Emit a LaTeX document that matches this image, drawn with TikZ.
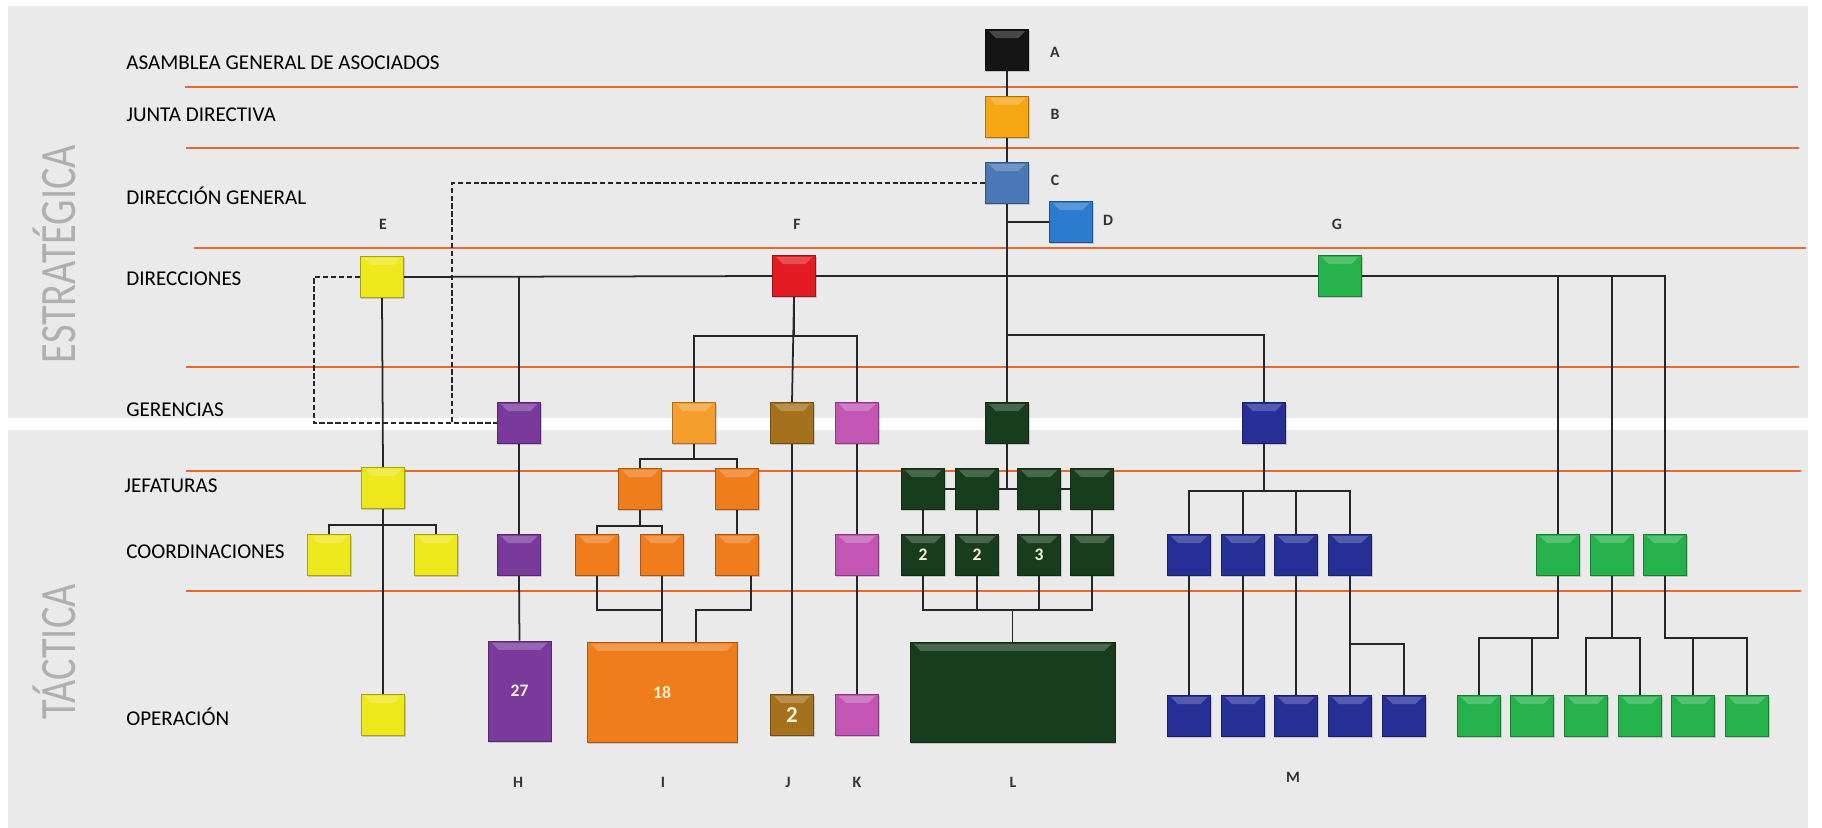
\documentclass[tikz,border=0pt]{standalone}
\usepackage{fontspec}
\setmainfont{Carlito}
\usetikzlibrary{shadows,calc}

\definecolor{panel}{HTML}{EAEAEB}
\definecolor{lineor}{HTML}{E8692C}
\definecolor{bigtxt}{HTML}{B0B0B0}
\definecolor{numtxt}{HTML}{F6F1D6}
\definecolor{colA}{HTML}{141414}
\definecolor{colB}{HTML}{F5A613}
\definecolor{colC}{HTML}{4A79B5}
\definecolor{colD}{HTML}{2B7BCF}
\definecolor{colE}{HTML}{EDE91C}
\definecolor{colF}{HTML}{E31B23}
\definecolor{colG}{HTML}{26B24B}
\definecolor{colH}{HTML}{7A3A9C}
\definecolor{colIg}{HTML}{F59E2E}
\definecolor{colI}{HTML}{F07D1C}
\definecolor{colJ}{HTML}{A6711C}
\definecolor{colK}{HTML}{C356B5}
\definecolor{colL}{HTML}{183D1C}
\definecolor{colM}{HTML}{262F96}

\begin{document}
\begin{tikzpicture}[x=0.02cm, y=-0.02cm,
    orgbox/.style={draw=#1!70!black, fill=#1, line width=0.5pt, inner sep=0pt,
        minimum width=0.87cm, minimum height=0.83cm,
        drop shadow={shadow xshift=0.6pt, shadow yshift=-0.9pt, opacity=0.35},
        path picture={\fill[white, opacity=0.22]
            ([xshift=-2pt,yshift=-1pt]path picture bounding box.north east) --
            ([xshift=2pt,yshift=-1pt]path picture bounding box.north west) --
            ([xshift=6pt,yshift=-5pt]path picture bounding box.north west) --
            ([xshift=-6pt,yshift=-5pt]path picture bounding box.north east) -- cycle;}},
    rowlabel/.style={anchor=west, inner sep=0pt, font=\fontsize{12}{14}\selectfont},
    letter/.style={inner sep=0pt, text=black!80, font=\fontsize{9}{10}\selectfont\bfseries},
    num/.style={text=numtxt, font=\fontsize{10}{12}\selectfont\bfseries},
    bigtext/.style={rotate=90, inner sep=0pt, text=bigtxt, font=\fontsize{29}{30}\selectfont},
    level/.style={draw=lineor, line width=1.6pt},
    link/.style={draw=black!85, line width=1pt}]

    \useasboundingbox (0,0) rectangle (1822,828);

    % Panels
    \fill[panel] (8,6) rectangle (1808,418);
    \fill[panel] (8,430) rectangle (1808,828);

    % Level lines
    \foreach \y/\xa/\xb in {87/185/1798, 148/186/1799, 248/194/1806, 367/186/1799, 471/186/1801, 591/186/1801}
        \draw[level] (\xa,\y) -- (\xb,\y);

    % Side labels
    \node[bigtext] (estr) at (54,254) {\scalebox{0.79}[1]{ESTRATÉGICA}};
    \node[bigtext] (tact) at (54,652) {\scalebox{0.79}[1]{TÁCTICA}};

    % Row labels
    \node[rowlabel] (labAsam) at (126,63) {ASAMBLEA GENERAL DE ASOCIADOS};
    \node[rowlabel] (labJunta) at (126,115) {JUNTA DIRECTIVA};
    \node[rowlabel] (labDirgen) at (126,196) {DIRECCIÓN GENERAL};
    \node[rowlabel] (labDir) at (126,279) {DIRECCIONES};
    \node[rowlabel] (labGer) at (126,410) {GERENCIAS};
    \node[rowlabel] (labJef) at (124,486) {JEFATURAS};
    \node[rowlabel] (labCoo) at (126,552) {COORDINACIONES};
    \node[rowlabel] (labOpe) at (126,717) {OPERACIÓN};

    % Strategic boxes
    \node[orgbox=colA] (asam) at (1007,50) {};
    \node[orgbox=colB] (junta) at (1007,117) {};
    \node[orgbox=colC] (dirgen) at (1007,183) {};
    \node[orgbox=colD] (asesor) at (1071,222) {};
    \node[orgbox=colE] (dirE) at (382,277) {};
    \node[orgbox=colF] (dirF) at (794,276) {};
    \node[orgbox=colG] (dirG) at (1340,276) {};

    % Gerencias
    \node[orgbox=colH] (gerH) at (519,423) {};
    \node[orgbox=colIg] (gerI) at (694,423) {};
    \node[orgbox=colJ] (gerJ) at (792,423) {};
    \node[orgbox=colK] (gerK) at (857,423) {};
    \node[orgbox=colL] (gerL) at (1007,423) {};
    \node[orgbox=colM] (gerM) at (1264,423) {};

    % Jefaturas
    \node[orgbox=colE] (jefE) at (383,488) {};
    \node[orgbox=colI] (jefI1) at (640,489) {};
    \node[orgbox=colI] (jefI2) at (737,489) {};
    \foreach \x [count=\i] in {923,977,1039,1092}
        \node[orgbox=colL] (jefL\i) at (\x,489) {};

    % Coordinaciones
    \node[orgbox=colE] (coE1) at (329,555) {};
    \node[orgbox=colE] (coE2) at (436,555) {};
    \node[orgbox=colH] (coH) at (519,555) {};
    \node[orgbox=colI] (coI1) at (597,555) {};
    \node[orgbox=colI] (coI2) at (662,555) {};
    \node[orgbox=colI] (coI3) at (737,555) {};
    \node[orgbox=colK] (coK) at (857,555) {};
    \foreach \x/\t [count=\i] in {923/2,977/2,1039/3,1092/{}}
        \node[orgbox=colL, num] (coL\i) at (\x,555) {\t};
    \foreach \x [count=\i] in {1189,1243,1296,1350}
        \node[orgbox=colM] (coM\i) at (\x,555) {};
    \foreach \x [count=\i] in {1558,1612,1665}
        \node[orgbox=colG] (coG\i) at (\x,555) {};

    % Operacion
    \node[orgbox=colE] (opE) at (383,715) {};
    \node[orgbox=colH, num, minimum width=1.26cm, minimum height=2cm] (opH) at (519.5,691) {27};
    \node[orgbox=colI, num, minimum width=3cm, minimum height=2cm] (opI) at (662,692) {18};
    \node[orgbox=colJ, num, font=\fontsize{13}{14}\selectfont\bfseries] (opJ) at (792,715) {2};
    \node[orgbox=colK] (opK) at (857,715) {};
    \node[orgbox=colL, minimum width=4.1cm, minimum height=2cm] (opL) at (1012.5,692) {};
    \foreach \x [count=\i] in {1189,1243,1296,1350,1404}
        \node[orgbox=colM] (opM\i) at (\x,716) {};
    \foreach \x [count=\i] in {1479,1532,1586,1640,1693,1747}
        \node[orgbox=colG] (opG\i) at (\x,716) {};

    % Letters
    \node[letter] (tA) at (1055,52) {A};
    \node[letter] (tB) at (1055,114) {B};
    \node[letter] (tC) at (1055,180) {C};
    \node[letter] (tD) at (1108,220) {D};
    \node[letter] (tE) at (383,224) {E};
    \node[letter] (tF) at (797,224) {F};
    \node[letter] (tG) at (1337,224) {G};
    \node[letter] (tH) at (518,782) {H};
    \node[letter] (tI) at (663,782) {I};
    \node[letter] (tJ) at (788,782) {J};
    \node[letter] (tK) at (857,782) {K};
    \node[letter] (tL) at (1013,782) {L};
    \node[letter] (tM) at (1293,777) {M};

    % Main trunk
    \draw[link] (asam.south) -- (junta.north);
    \draw[link] (junta.south) -- (dirgen.north);
    \draw[link] (dirgen.south) -- (gerL.north);
    \draw[link] (dirgen.south |- asesor.west) -- (asesor.west);
    \draw[link] (gerL.north) -- ++(0,-67) -| (gerM.north);

    % Direcciones bar
    \draw[link] (dirE.east) -- (dirF.west);
    \draw[link] (dirF.east) -- (dirG.west);
    \draw[link] (dirE.east -| gerH.north) -- (gerH.north);
    \foreach \i in {1,2,3}
        \draw[link] (dirG.east) -| (coG\i.north);

    % Dashed links
    \draw[link, line width=0.8pt, dash pattern=on 3pt off 1.5pt] (dirgen.west) -| ($(gerH.west)+(-45,0)$) -- (gerH.west);
    \draw[link, line width=0.8pt, dash pattern=on 3pt off 1.5pt] (dirE.west) -- ++(-46,0) |- (gerH.west);

    % E branch
    \draw[link] (dirE.south) -- (jefE.north);
    \draw[link] (jefE.south) -- (opE.north);
    \foreach \i in {1,2}
        \draw[link] (jefE.south) -- ++(0,16) -| (coE\i.north);

    % H branch
    \draw[link] (gerH.south) -- (coH.north);
    \draw[link] (coH.south) -- (opH.north);

    % F branch
    \draw[link] (dirF.south) -- (gerJ.north);
    \draw[link] (dirF.south) -- ++(0,39) -| (gerI.north);
    \draw[link] (dirF.south) -- ++(0,39) -| (gerK.north);
    \draw[link] (gerJ.south) -- (opJ.north);
    \draw[link] (gerK.south) -- (coK.north);
    \draw[link] (coK.south) -- (opK.north);

    % I branch
    \draw[link] (gerI.south) -- ++(0,15) -| (jefI1.north);
    \draw[link] (gerI.south) -- ++(0,15) -| (jefI2.north);
    \draw[link] (jefI1.south) -- ++(0,16) -| (coI1.north);
    \draw[link] (jefI1.south) -- ++(0,16) -| (coI2.north);
    \draw[link] (jefI2.south) -- (coI3.north);
    \draw[link] (coI1.south) -- ++(0,34) -| (opI.north);
    \draw[link] (coI2.south) -- (opI.north);
    \draw[link] ($(coI3.south)+(14,0)$) -- ++(0,34) -| ($(opI.north)+(34,0)$);

    % L branch
    \draw[link] (gerL.south) -- (gerL.south |- jefL2.east);
    \draw[link] (jefL1.east) -- (jefL2.west);
    \draw[link] (jefL2.east) -- (jefL3.west);
    \draw[link] (jefL3.east) -- (jefL4.west);
    \foreach \i in {1,2,3,4} {
        \draw[link] (jefL\i.south) -- (coL\i.north);
        \draw[link] (coL\i.south) -- ++(0,34) -| (opL.north);
    }

    % M branch
    \foreach \i in {1,2,3,4} {
        \draw[link] (gerM.south) -- ++(0,47) -| (coM\i.north);
        \draw[link] (coM\i.south) -- (opM\i.north);
    }
    \draw[link] (coM4.south) -- ++(0,68) -| (opM5.north);

    % G branch
    \foreach \c/\a/\b in {1/1/2, 2/3/4, 3/5/6} {
        \draw[link] (coG\c.south) -- ++(0,62) -| (opG\a.north);
        \draw[link] (coG\c.south) -- ++(0,62) -| (opG\b.north);
    }
\end{tikzpicture}
\end{document}
